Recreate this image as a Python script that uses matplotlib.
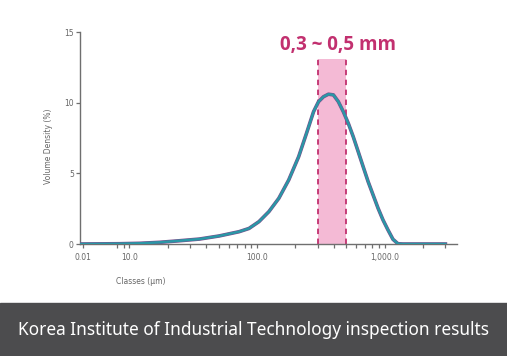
import matplotlib.pyplot as plt
from matplotlib.ticker import FixedLocator, FixedFormatter

# Data
classes_um = [4.1, 8.4, 12.1, 17.3, 24.7, 35.4, 50.6, 72.4, 86.6, 103.6,
              124.0, 148.3, 177.4, 212.3, 244.9, 277.7, 303.8, 332.3, 363.3, 397.4,
              434.6, 475.3, 520.0, 568.6, 622.0, 680.0, 744.0, 813.7, 890.0, 973.0,
              1065.0, 1165.0, 1274.0, 1393.0, 2000.0, 3000.0]
volume_density = [0.0, 0.02, 0.05, 0.12, 0.23, 0.35, 0.57, 0.87, 1.1, 1.58,
                  2.29, 3.23, 4.53, 6.18, 7.85, 9.36, 10.07, 10.42, 10.6, 10.55,
                  10.07, 9.36, 8.54, 7.59, 6.53, 5.47, 4.41, 3.47, 2.53, 1.70,
                  0.99, 0.33, 0.02, 0.0, 0.0, 0.0]

band_low, band_high, band_top = 300, 500, 13.1
band_label = '0,3 ~ 0,5 mm'

major_ticks = [4.3, 10, 100, 1000]
major_labels = ['0.01', '10.0', '100.0', '1,000.0']
minor_ticks = [8, 9, 20, 30, 40, 50, 60, 70, 80, 90,
               200, 300, 400, 500, 600, 700, 800, 900, 2000, 3000]
y_ticks = [0, 5, 10, 15]

caption = 'Korea Institute of Industrial Technology inspection results'

GRAY = '#6f6f6f'
MAGENTA = '#c2306f'

fig = plt.figure(figsize=(5.07, 3.56), dpi=100)
ax = fig.add_axes([0.1578, 0.3146, 0.7436, 0.5955])

# highlighted size range
ax.fill_between([band_low, band_high], 0, band_top, color='#f4bad5', lw=0, zorder=1)
ax.vlines([band_low, band_high], 0, band_top, colors=MAGENTA, linestyles=(0, (3, 2.5)),
          lw=1.3, zorder=2)

# distribution curve (overlapping runs look teal / purple)
ax.plot(classes_um, volume_density, color='#7a4f8c', lw=2.6, zorder=3,
        solid_joinstyle='round')
ax.plot(classes_um, volume_density, color='#2a97a6', lw=1.8, zorder=4,
        solid_joinstyle='round')

ax.text(434, 14.1, band_label, color=MAGENTA, fontsize=13.5, fontweight='bold',
        family='Open Sans', ha='center', va='center', clip_on=False)

ax.set_xscale('log')
ax.set_xlim(4.1, 3700)
ax.set_ylim(0, 15)

ax.xaxis.set_major_locator(FixedLocator(major_ticks))
ax.xaxis.set_major_formatter(FixedFormatter(major_labels))
ax.xaxis.set_minor_locator(FixedLocator(minor_ticks))
ax.xaxis.set_minor_formatter(FixedFormatter([''] * len(minor_ticks)))
ax.set_yticks(y_ticks)

for s in ['top', 'right']:
    ax.spines[s].set_visible(False)
for s in ['left', 'bottom']:
    ax.spines[s].set_color(GRAY)
    ax.spines[s].set_linewidth(1.0)

ax.tick_params(axis='both', which='both', colors=GRAY, labelcolor='#666666',
               labelsize=5.5, length=3, width=0.9)
ax.tick_params(axis='y', pad=1.5)

ax.set_xlabel('Classes (µm)', fontsize=5.5, color='#666666')
ax.xaxis.set_label_coords(0.16, -0.155)
ax.set_ylabel('Volume Density (%)', fontsize=5.5, color='#666666')
ax.yaxis.set_label_coords(-0.072, 0.46)

# caption strip at the bottom
fig.patches.append(plt.Rectangle((0, 0), 1, 53 / 356, transform=fig.transFigure,
                                 color='#4c4c4e', zorder=0))
fig.text(0.5, 0.073, caption, color='white', fontsize=12.4, family='Noto Sans',
         ha='center', va='center')

plt.savefig('out.png', dpi=100)
